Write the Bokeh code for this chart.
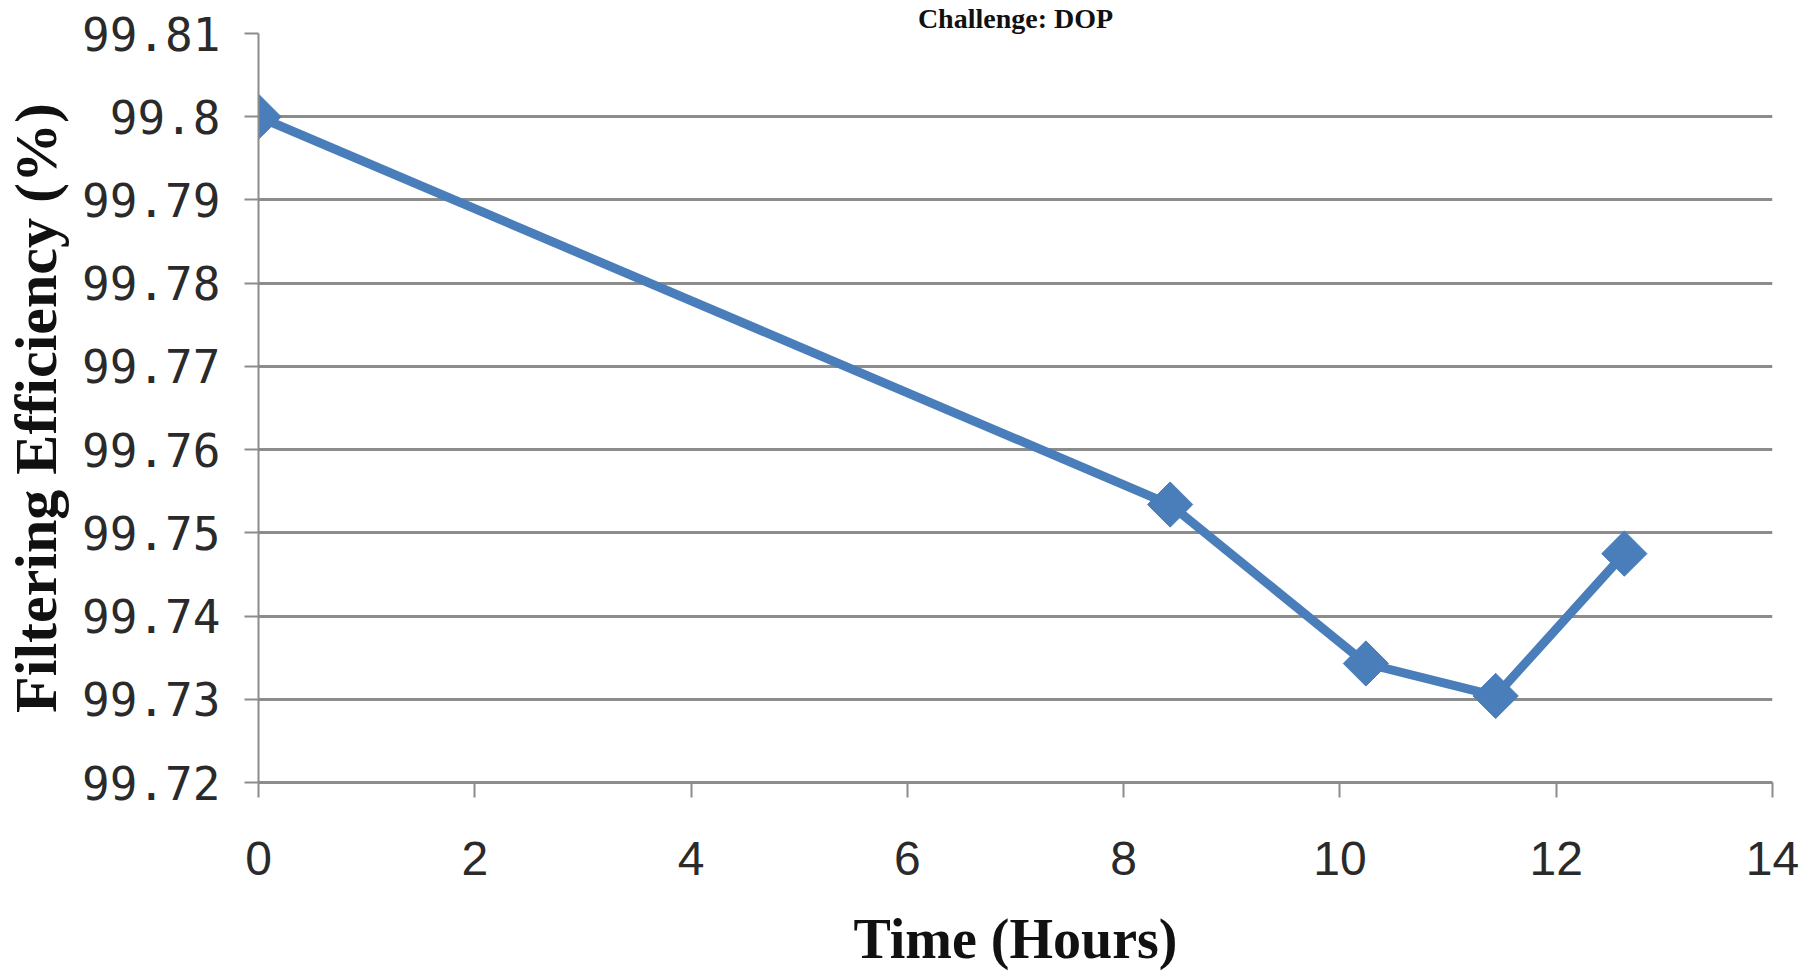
from bokeh.plotting import figure
from bokeh.models import Range1d, FixedTicker
from bokeh.embed import file_html
from bokeh.resources import INLINE
import math

# ---- data ----
hours = [0, 8.43, 10.24, 11.44, 12.63]
efficiency = [99.80, 99.7534, 99.7343, 99.7304, 99.7475]
x_ticks = [0, 2, 4, 6, 8, 10, 12, 14]
y_ticks = [99.72, 99.73, 99.74, 99.75, 99.76, 99.77, 99.78, 99.79, 99.80, 99.81]
y_tick_labels = ["99.72", "99.73", "99.74", "99.75", "99.76", "99.77", "99.78", "99.79", "99.8", "99.81"]
title_text = "Challenge: DOP"
x_title = "Time (Hours)"
y_title = "Filtering Efficiency (%)"

BLUE = "#4A7EBB"
GRID = "#8c8c8c"

p = figure(width=1820, height=972, output_backend="svg", toolbar_location=None,
           x_range=Range1d(0, 14), y_range=Range1d(99.72, 99.81),
           min_border_left=255, min_border_right=48, min_border_top=32, min_border_bottom=186)
p.outline_line_color = None
p.background_fill_color = "white"
p.border_fill_color = "white"

p.title.text = title_text
p.title.align = "center"
p.title.offset = -55
p.title.standoff = 0
p.title.text_font = "Liberation Serif"
p.title.text_font_style = "bold"
p.title.text_font_size = "28px"
p.title.text_line_height = 1.0
p.title.text_color = "#111111"

p.xaxis.ticker = FixedTicker(ticks=x_ticks)
p.yaxis.ticker = FixedTicker(ticks=y_ticks)
p.yaxis.major_label_overrides = {t: s for t, s in zip(y_ticks, y_tick_labels)}

p.xgrid.grid_line_color = None
p.ygrid.grid_line_color = GRID
p.ygrid.grid_line_width = 3

for ax in (p.xaxis, p.yaxis):
    ax.axis_line_color = GRID
    ax.axis_line_width = 2
    ax.major_tick_line_color = GRID
    ax.major_tick_line_width = 2
    ax.major_tick_in = 0
    ax.minor_tick_line_color = None
    ax.major_label_text_color = "#2a2a2a"

p.xaxis.major_tick_out = 15
p.yaxis.major_tick_out = 14
p.xaxis.axis_line_width = 3

p.xaxis.major_label_text_font = "Liberation Sans"
p.xaxis.major_label_text_font_size = "48px"
p.xaxis.major_label_standoff = 44
p.yaxis.major_label_text_font = "DejaVu Sans Mono"
p.yaxis.major_label_text_font_size = "46px"
p.yaxis.major_label_standoff = 24

p.xaxis.axis_label = x_title
p.yaxis.axis_label = y_title
for ax in (p.xaxis, p.yaxis):
    ax.axis_label_text_font = "Liberation Serif"
    ax.axis_label_text_font_style = "bold"
    ax.axis_label_text_color = "#111111"
p.xaxis.axis_label_text_font_size = "56px"
p.xaxis.axis_label_text_line_height = 1.0
p.yaxis.axis_label_text_font_size = "60px"
p.xaxis.axis_label_standoff = 30
p.yaxis.axis_label_standoff = 10

p.line(hours, efficiency, line_color=BLUE, line_width=9)
p.scatter(hours, efficiency, marker="square", angle=math.pi / 4, size=32,
          fill_color=BLUE, line_color=BLUE)

open("out.html", "w").write(file_html(p, INLINE))
